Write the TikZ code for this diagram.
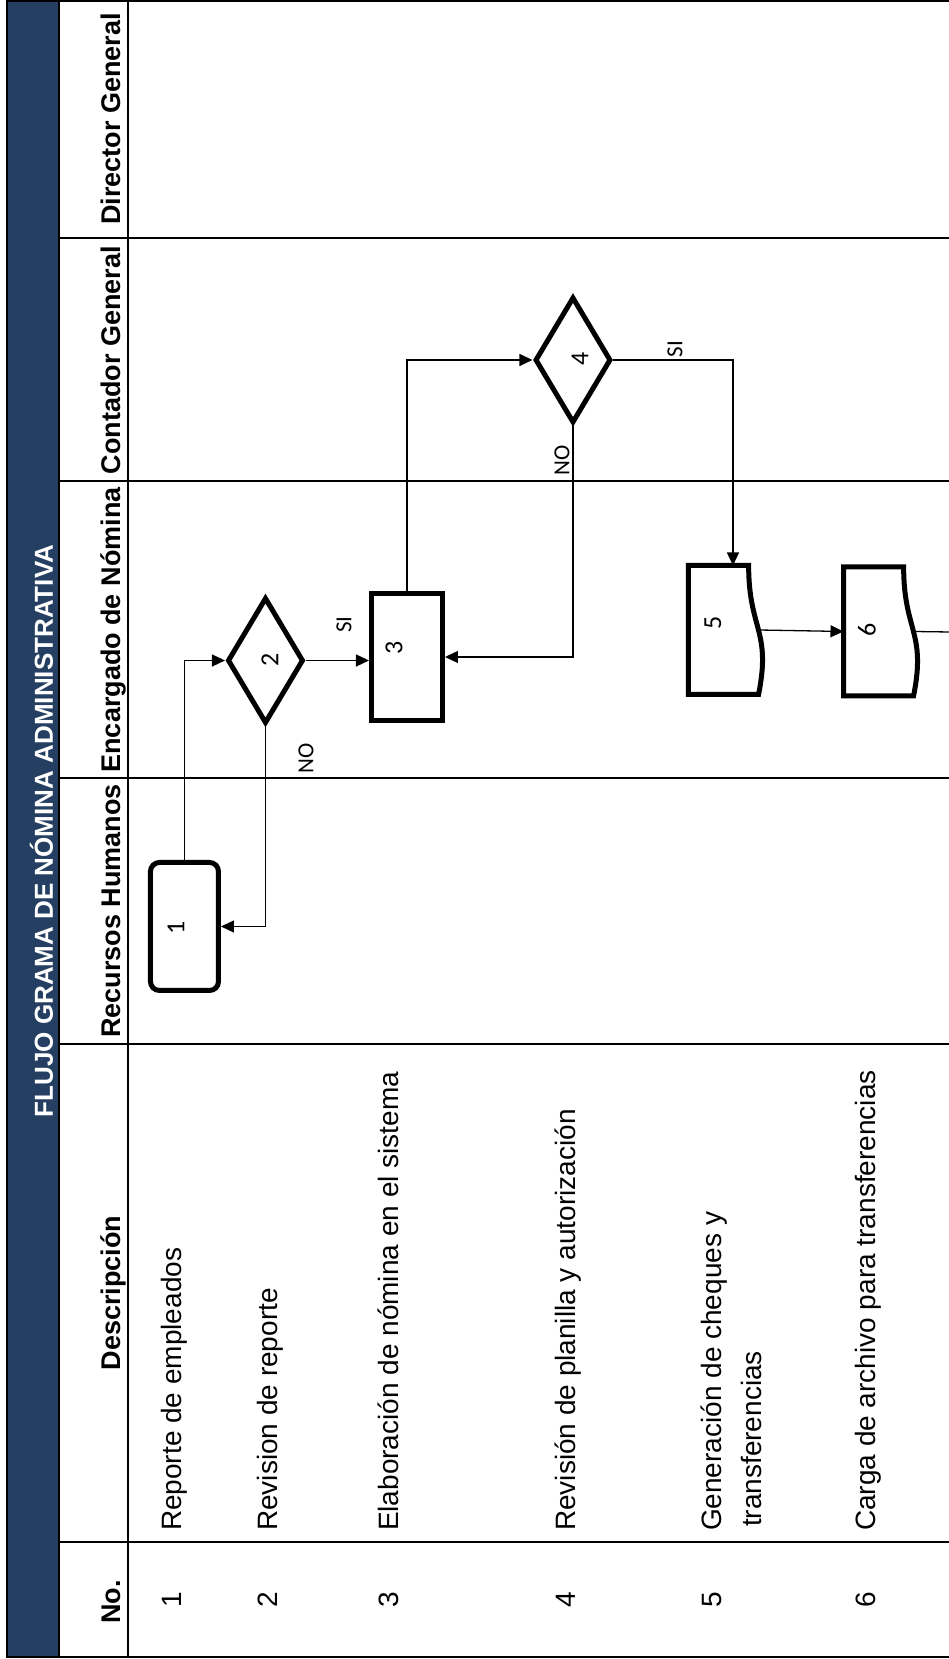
\documentclass[tikz,border=0pt]{standalone}
\usepackage{fontspec}
\setmainfont{Liberation Sans}
\newfontfamily\calib{Carlito}
\usetikzlibrary{arrows.meta,shapes.geometric,calc}
\definecolor{titlebg}{RGB}{37,63,98}
\newcommand\bodyfont{\fontsize{28}{40}\selectfont}
\newcommand\headfont{\fontsize{27}{32}\selectfont\bfseries}
\newcommand\titlefont{\fontsize{26}{30}\selectfont\bfseries}
\newcommand\numfont{\calib\fontsize{26}{30}\selectfont}
\newcommand\ynfont{\calib\fontsize{23}{28}\selectfont}
% document symbol: name, x centre, top edge
\newcommand\docshape[3]{%
  \node[docbox] (#1) at (#2,#3-37) {};
  \draw[shp] (#1.north west) -- (#1.north east)
    -- ($(#1.north east)!0.802!(#1.south east)$)
    .. controls ($(#1.north)!0.802!(#1.south)$) and ($(#1.north)!1.1075!(#1.south)$)
    .. ($(#1.north west)!0.934!(#1.south west)$) -- cycle;
  \coordinate (#1b) at ($(#1.north)!0.933!(#1.south)$);
}
\begin{document}
\begin{tikzpicture}[x=1pt, y=1pt, rotate=90, transform shape, line width=2pt,
  head/.style={font=\headfont, anchor=base},
  rowtxt/.style={font=\bodyfont, anchor=base west, inner sep=0pt},
  rowno/.style={font=\bodyfont, anchor=base, inner sep=0pt},
  shp/.style={draw, line width=5pt, inner sep=0pt},
  term/.style={shp, rectangle, rounded corners=9pt, minimum width=128pt, minimum height=68pt},
  proc/.style={shp, rectangle, minimum width=127pt, minimum height=71pt},
  dec/.style={shp, diamond, minimum width=126pt, minimum height=76pt},
  docbox/.style={rectangle, inner sep=0pt, minimum width=127pt, minimum height=73pt},
  num/.style={font=\numfont, inner sep=0pt},
  yn/.style={font=\ynfont, inner sep=0pt},
  flow/.style={line width=1.3pt, -{Triangle[length=13pt, width=12pt]}},
  link/.style={line width=1.3pt}]
  \useasboundingbox (0,0) rectangle (1659,949);
  % table
  \fill[titlebg] (2,890) rectangle (1658,942);
  \draw[line width=2.5pt] (2,0) -- (2,942) -- (1658,942) -- (1658,0);
  \draw (2,890) -- (1658,890);
  \draw (2,821) -- (1658,821);
  \foreach \xl in {117,615,881,1177.5,1421}{
    \draw (\xl,890) -- (\xl,0);
  }
  \node[font=\titlefont, text=white, anchor=base] (title) at (828,896) {FLUJO GRAMA DE NÓMINA ADMINISTRATIVA};
  \foreach \xc/\hd [count=\i] in {57/No., 366/Descripción, 748/Recursos Humanos, 1029/Encargado de Nómina, 1299/Contador General, 1540/Director General}{
    \node[head] (hd\i) at (\xc,828) {\hd};
  }
  \foreach \yb/\nr/\txt in {767/1/Reporte de empleados, 671/2/Revision de reporte, 550/3/Elaboración de nómina en el sistema, 373/4/Revisión de planilla y autorización, 227/5/Generación de cheques y, 74/6/Carga de archivo para transferencias}{
    \node[rowno] (no\nr) at (59,\yb) {\nr};
    \node[rowtxt] (ds\nr) at (127,\yb) {\txt};
  }
  \node[rowtxt] (ds5b) at (131,187) {transferencias};
  % flow
  \node[term] (r1) at (732.5,764.5) {};
  \node[dec] (d2) at (998.5,683.5) {};
  \node[proc] (r3) at (1002,542) {};
  \node[dec] (d4) at (1299,376) {};
  \docshape{doc5}{1029}{260}
  \docshape{doc6}{1027.5}{105}
  \node[num] (n1) at (731,773) {1};
  \node[num] (n2) at (999,679) {2};
  \node[num] (n3) at (1011,555) {3};
  \node[num] (n4) at (1300,369) {4};
  \node[num] (n5) at (1036,236) {5};
  \node[num] (n6) at (1029,82) {6};
  \draw[flow] (r1.east) -| (d2.north);
  \draw[flow] (d2.west) -| (r1.south);
  \draw[flow] (d2.south) -- (d2.south |- r3.north);
  \draw[flow] (r3.east) -| (d4.north);
  \draw[flow] (d4.west) -| (r3.south);
  \draw[flow] (d4.south) |- ($(doc5.east)+(0,-7)$);
  \draw[flow] (doc5b) -- (doc6.north);
  \coordinate (out6) at (1027,0);
  \draw[link] (doc6b) -- (out6);
  \node[yn] (no2) at (901,643) {NO};
  \node[yn] (si2) at (1034.5,605) {SI};
  \node[yn] (no4) at (1199,387) {NO};
  \node[yn] (si4) at (1310,274) {SI};
\end{tikzpicture}
\end{document}
